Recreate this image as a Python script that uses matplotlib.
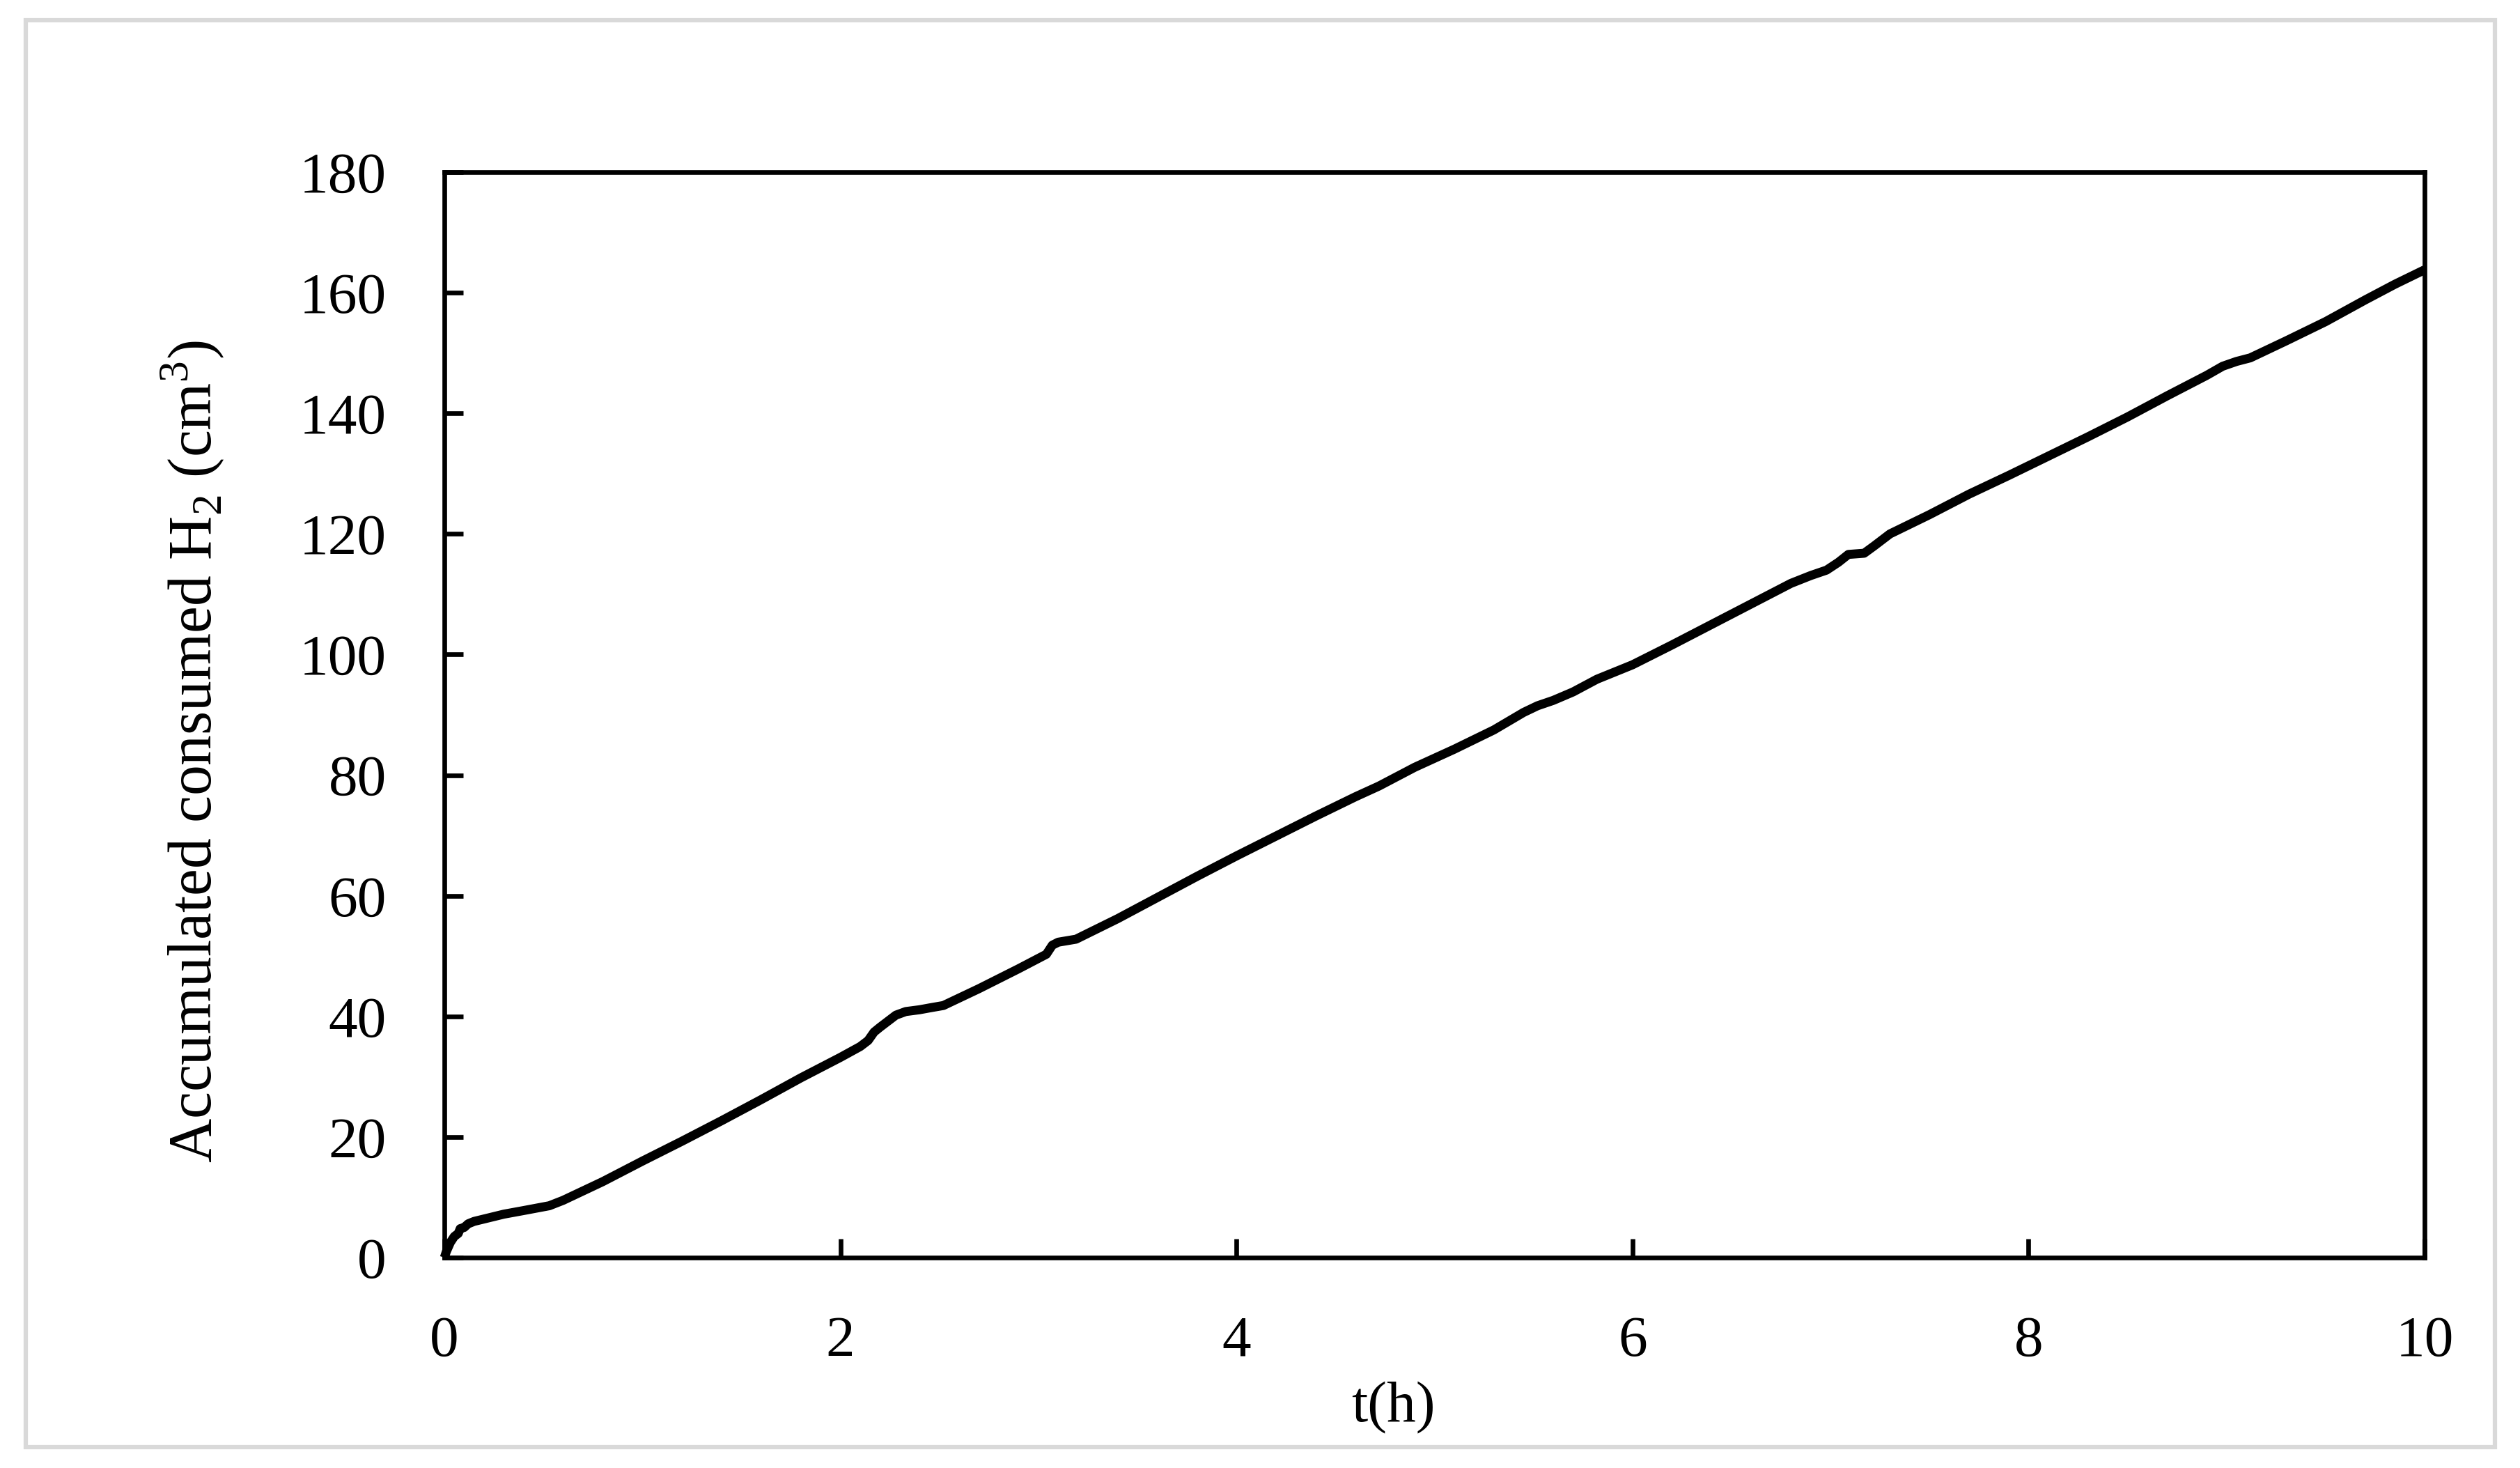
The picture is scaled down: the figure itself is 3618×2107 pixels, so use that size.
import matplotlib
matplotlib.use("Agg")
import matplotlib.pyplot as plt
from matplotlib.patches import Rectangle

# hours vs accumulated consumed H2 (cm3)
t_h = [0.00, 0.01, 0.03, 0.05, 0.07, 0.08, 0.10, 0.12, 0.15, 0.20,
       0.30, 0.40, 0.53, 0.60, 0.80, 1.00, 1.20, 1.40, 1.60, 1.80,
       2.00, 2.10, 2.14, 2.17, 2.20, 2.24, 2.28, 2.33, 2.40, 2.45,
       2.52, 2.70, 2.90, 3.04, 3.07, 3.10, 3.19, 3.40, 3.60, 3.80,
       4.00, 4.20, 4.40, 4.60, 4.72, 4.90, 5.10, 5.30, 5.45, 5.52,
       5.60, 5.70, 5.82, 6.00, 6.20, 6.40, 6.60, 6.80, 6.90, 6.98,
       7.04, 7.09, 7.17, 7.22, 7.30, 7.50, 7.70, 7.90, 8.10, 8.30,
       8.50, 8.70, 8.90, 8.98, 9.05, 9.12, 9.30, 9.50, 9.70, 9.85,
       10.00]
h2_cm3 = [0.0, 1.0, 2.5, 3.5, 4.0, 4.8, 5.0, 5.6, 6.0, 6.4,
          7.2, 7.8, 8.6, 9.5, 12.6, 16.0, 19.3, 22.7, 26.2, 29.8,
          33.2, 35.0, 36.0, 37.4, 38.2, 39.2, 40.2, 40.8, 41.1, 41.4,
          41.8, 44.6, 47.9, 50.3, 51.8, 52.3, 52.8, 56.2, 59.7, 63.2,
          66.6, 69.9, 73.2, 76.4, 78.2, 81.3, 84.3, 87.5, 90.4, 91.5,
          92.4, 93.8, 95.9, 98.3, 101.6, 105.0, 108.4, 111.8, 113.1, 114.0,
          115.3, 116.6, 116.8, 118.0, 120.0, 123.2, 126.6, 129.7, 132.9, 136.1,
          139.4, 142.9, 146.3, 147.8, 148.6, 149.2, 152.0, 155.2, 158.8, 161.4,
          163.8]

x_ticks = [0, 2, 4, 6, 8, 10]
y_ticks = [0, 20, 40, 60, 80, 100, 120, 140, 160, 180]

plt.rcParams["font.family"] = ["Liberation Serif", "DejaVu Serif"]
plt.rcParams["mathtext.fontset"] = "custom"
plt.rcParams["mathtext.rm"] = "Liberation Serif"

W, H, DPI = 3618, 2107, 300
fig = plt.figure(figsize=(W / DPI, H / DPI), dpi=DPI)
ax = fig.add_axes([638 / W, 1 - 1805 / H, (3481 - 638) / W, (1805 - 247) / H])

ax.plot(t_h, h2_cm3, color="black", lw=3.1, clip_on=False,
        solid_joinstyle="round", solid_capstyle="butt")

ax.set_xlim(0, 10)
ax.set_ylim(0, 180)
ax.set_xticks(x_ticks)
ax.set_yticks(y_ticks)
ax.tick_params(direction="in", length=6.5, width=1.6, labelsize=20, pad=20,
               color="black", labelcolor="black")
for s in ax.spines.values():
    s.set_linewidth(1.6)
    s.set_color("black")

fig.text(276 / W, 1 - 1078 / H,
         r"Accumulated consumed H$_\mathregular{2}$ (cm$^\mathregular{3}$)",
         rotation=90, ha="center", va="center", fontsize=21)
fig.text(2000 / W, 1 - 2040 / H, "t(h)", ha="center", va="baseline",
         fontsize=20)

# light grey frame round the whole chart
fig.patches.append(Rectangle((37 / W, 1 - 2077 / H), (3582 - 37) / W,
                             (2077 - 29) / H, transform=fig.transFigure,
                             fill=False, edgecolor="#d9d9d9", lw=1.5))

fig.savefig("out.png", dpi=DPI)
